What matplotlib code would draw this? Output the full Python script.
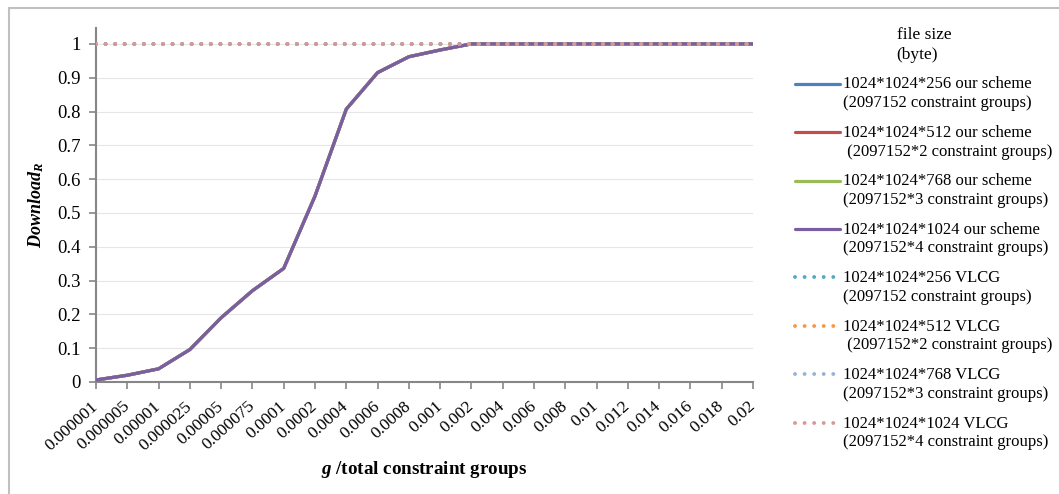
import numpy as np
import matplotlib.pyplot as plt
from matplotlib.patches import Rectangle
from matplotlib.legend_handler import HandlerLine2D

plt.rcParams['font.family'] = 'Liberation Serif'
plt.rcParams['mathtext.fontset'] = 'custom'
plt.rcParams['mathtext.it'] = 'Liberation Serif:italic:bold'
plt.rcParams['mathtext.rm'] = 'Liberation Serif:bold'

# x categories (g / total constraint groups)
ratios = ['0.000001', '0.000005', '0.00001', '0.000025', '0.00005', '0.000075',
          '0.0001', '0.0002', '0.0004', '0.0006', '0.0008', '0.001', '0.002',
          '0.004', '0.006', '0.008', '0.01', '0.012', '0.014', '0.016', '0.018', '0.02']

# our scheme -- all four file sizes give the same curve
scheme_256 = [0.006, 0.02, 0.039, 0.096, 0.19, 0.27, 0.336, 0.55, 0.807, 0.915, 0.962, 0.982,
              1.0, 1.0, 1.0, 1.0, 1.0, 1.0, 1.0, 1.0, 1.0, 1.0]
scheme_512 = list(scheme_256)
scheme_768 = list(scheme_256)
scheme_1024 = list(scheme_256)

# VLCG always downloads everything
vlcg_256 = [1.0] * 22
vlcg_512 = [1.0] * 22
vlcg_768 = [1.0] * 22
vlcg_1024 = [1.0] * 22

labels = ['1024*1024*256 our scheme\n(2097152 constraint groups)',
          '1024*1024*512 our scheme\n (2097152*2 constraint groups)',
          '1024*1024*768 our scheme\n(2097152*3 constraint groups)',
          '1024*1024*1024 our scheme\n(2097152*4 constraint groups)',
          '1024*1024*256 VLCG\n(2097152 constraint groups)',
          '1024*1024*512 VLCG\n (2097152*2 constraint groups)',
          '1024*1024*768 VLCG\n(2097152*3 constraint groups)',
          '1024*1024*1024 VLCG\n(2097152*4 constraint groups)']

colors = ['#4F81BD', '#C0504D', '#9BBB59', '#7B5EA2',
          '#4BACC6', '#F79646', '#95B3D7', '#D99694']


# legend line sits next to the first text line, like Excel does
class FirstLineHandler(HandlerLine2D):
    def create_artists(self, legend, orig_handle, xdescent, ydescent,
                       width, height, fontsize, trans):
        arts = super().create_artists(legend, orig_handle, xdescent, ydescent,
                                      width, height, fontsize, trans)
        for a in arts:
            a.set_ydata(np.asarray(a.get_ydata()) + 0.62 * fontsize)
        return arts


fig = plt.figure(figsize=(10.59, 4.94), dpi=100)
ax = fig.add_axes([96 / 1059, 1 - 382 / 494, (753 - 96) / 1059, (382 - 28) / 494])

x = list(range(len(ratios)))
series = [scheme_256, scheme_512, scheme_768, scheme_1024,
          vlcg_256, vlcg_512, vlcg_768, vlcg_1024]
for i, (vals, lab, col) in enumerate(zip(series, labels, colors)):
    if i < 4:
        ax.plot(x, vals, color=col, lw=2.3, label=lab, solid_capstyle='round', zorder=3)
    else:
        ax.plot(x, vals, color=col, lw=2.8, linestyle=(0, (0.01, 2.45)),
                dash_capstyle='round', label=lab, zorder=4)

ax.set_xlim(0, len(ratios) - 1)
ax.set_ylim(0, 1.047)
ax.set_yticks([i / 10 for i in range(11)])
ax.set_yticklabels(['0', '0.1', '0.2', '0.3', '0.4', '0.5', '0.6', '0.7', '0.8', '0.9', '1'], fontsize=13.5)
ax.set_xticks(x)
ax.set_xticklabels(ratios, rotation=42, ha='right', va='center', rotation_mode='anchor', fontsize=12.5)
ax.tick_params(axis='both', length=5, color='#868686', width=1.2)
ax.tick_params(axis='x', pad=11)
ax.tick_params(axis='y', pad=6)

for s in ['top', 'right']:
    ax.spines[s].set_visible(False)
for s in ['left', 'bottom']:
    ax.spines[s].set_color('#868686')
    ax.spines[s].set_linewidth(1.5)
ax.grid(axis='y', color='#E6E6E6', lw=0.8)
ax.set_axisbelow(True)

ax.set_ylabel('$Download_R$', fontsize=13, labelpad=8)
ax.set_xlabel('$g$ /total constraint groups', fontsize=13.7, fontweight='bold', labelpad=4)

handles, labs = ax.get_legend_handles_labels()
leg = fig.legend(handles, labs, loc='upper left', bbox_to_anchor=(780 / 1059, 1 - 12 / 494),
                 title='file size\n(byte)', fontsize=12, title_fontsize=12.5,
                 frameon=False, handlelength=2.7, handletextpad=0.2, labelspacing=0.83,
                 handler_map={h: FirstLineHandler() for h in handles})
for t in leg.get_texts():
    t.set_linespacing(1.22)
leg.get_title().set_linespacing(1.3)

fig.patches.append(Rectangle((9 / 1059, -0.05), 1.1, 1.05 - 8 / 494, transform=fig.transFigure,
                             fill=False, edgecolor='#C0C0C0', lw=1.5, clip_on=False))

fig.savefig('out.png', dpi=100)
